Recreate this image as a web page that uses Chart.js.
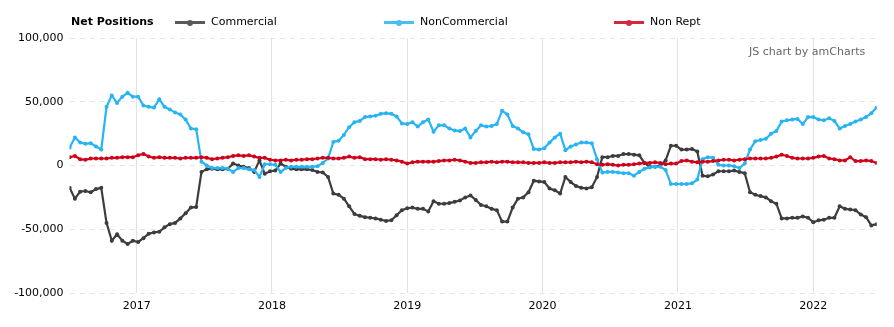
<!DOCTYPE html>
<html>
<head>
<meta charset="utf-8">
<script src="https://cdn.jsdelivr.net/npm/chart.js@4.4.1/dist/chart.umd.min.js"></script>
<style>
  body { margin: 0; background: #fff; font-family: "DejaVu Sans", Verdana, sans-serif; }
  #wrap { position: relative; width: 894px; height: 327px; }
  #chart { position: absolute; left: 0; top: 0; }
  .lg { position: absolute; top: 15px; font-size: 11px; line-height: 14px; color: #000; white-space: nowrap; }
  .mk { position: absolute; top: 21px; width: 30px; height: 3px; opacity: 0.85; }
  .mk i { position: absolute; left: 12px; top: -1.5px; width: 6px; height: 6px; border-radius: 50%; }
  .credit { position: absolute; left: 749px; top: 45px; font-size: 11px; line-height: 14px; color: #666; white-space: nowrap; }
</style>
</head>
<body>
<div id="wrap">
  <canvas id="chart" width="894" height="327"></canvas>
  <div class="lg" style="left:71px;font-weight:bold;">Net Positions</div>
  <div class="mk" style="left:175px;background:#3d3d3d;"><i style="background:#3d3d3d;"></i></div>
  <div class="lg" style="left:211px;">Commercial</div>
  <div class="mk" style="left:384px;background:#27b4f2;"><i style="background:#27b4f2;"></i></div>
  <div class="lg" style="left:420px;">NonCommercial</div>
  <div class="mk" style="left:614px;background:#d0021b;"><i style="background:#d0021b;"></i></div>
  <div class="lg" style="left:650px;">Non Rept</div>
  <div class="credit">JS chart by amCharts</div>
</div>
<script>
// semaine de début / fin des relevés (positions nettes, en milliers)
const firstDate = '2016-07-04';
const lastDate = '2022-06-21';

const commercial = [
  -17.5, -26, -20.5, -20, -21, -18.5, -17.5, -45, -59, -54,
  -59, -61.5, -59, -60, -57, -53.5, -52.5, -52, -48.5, -46,
  -45, -41.5, -37.5, -33, -32.5, -5, -3, -2.5, -3, -3,
  -2.5, 1.5, 0, -1, -2, -5, 4, -6.5, -4.5, -4,
  1.5, -1, -2.5, -3, -3, -3, -3.5, -5, -5.5, -9,
  -22, -23, -26, -32, -38, -39.5, -40.5, -41, -41.5, -42.5,
  -43.5, -43, -39, -35, -33.5, -33, -34, -34, -36, -28,
  -30, -30, -29.5, -28.5, -27.5, -25, -23.5, -27, -31, -32,
  -34, -35, -44, -44, -33, -26, -25, -21, -12, -12.5,
  -13, -18, -19.5, -22, -9, -13, -16, -17.5, -18, -17,
  -9, 6.5, 6.5, 7.5, 7.5, 9, 9, 8.5, 8, 2,
  -1, -1, 0, 4, 15.5, 15.5, 12.5, 12.5, 13, 11,
  -8, -8.5, -7, -4.5, -4.5, -4.5, -4, -5, -6, -21,
  -23, -24, -25, -28, -30, -41.5, -41.5, -41, -41, -40,
  -41, -44.5, -43, -42.5, -41, -41, -32, -34, -34.5, -35,
  -38.5, -40.5, -47, -46
];
const nonCommercial = [
  14, 22, 18, 17, 17.5, 15, 12.5, 46, 55, 49,
  54, 57, 54, 54, 47, 46, 45.5, 52, 46, 44,
  41.5, 40, 36, 29, 28.5, 3, 0, -2, -2, -2,
  -2.5, -5, -2, -2, -3, -3.5, -9, 1, 1, 0.5,
  -5, -2, -1, -1, -1, -1, -1, -0.5, 2, 5.5,
  18.5, 19.5, 24, 30, 34, 35, 38, 38.5, 39, 40.5,
  41, 40.5, 38.5, 33, 32.5, 34, 30.5, 34, 36, 26.5,
  31.5, 31.5, 29, 27.5, 27, 29, 22, 27, 31.5, 30.5,
  31, 32.5, 43, 40, 31, 29, 26, 24.5, 13, 12.5,
  13.5, 18, 22, 25, 12, 15, 16.5, 18, 18, 17.5,
  5, -5.5, -5, -5, -5.5, -6, -6, -8, -5, -2.5,
  -1.5, -1, -1, -3.5, -14.5, -14.5, -14.5, -14.5, -14, -11,
  5, 6.5, 6, 0.5, 0, 0, -0.5, -2, 1.5, 12.5,
  19, 20, 21, 25, 27, 34.5, 35.5, 36, 36.5, 32.5,
  38, 38, 36, 35.5, 37, 35, 29, 31, 32.5, 34.5,
  36, 38, 41, 45.5
];
const nonRept = [
  6.5, 7.5, 5, 4.5, 5.5, 5.5, 5.5, 5.5, 6, 6,
  6.5, 6.5, 6.5, 8, 9, 7, 6, 6.5, 6, 6,
  6, 5.5, 6, 6, 6, 6.5, 6, 5, 5.5, 6,
  6.5, 7.5, 8, 7.5, 8, 7, 6, 6, 4.5, 4,
  4, 4.5, 4, 4.5, 4.5, 5, 5, 5.5, 6, 6,
  5.5, 5.5, 6, 7, 6, 6.5, 5, 5, 5, 4.5,
  5, 4.5, 4, 3, 1.5, 2.5, 3, 3, 3, 3,
  3.5, 4, 4, 4.5, 4, 3, 2, 2, 2.5, 2.5,
  3, 2.5, 3, 3, 2.5, 2.5, 2.5, 2, 2, 2,
  2.5, 2, 2, 2.5, 2.5, 2.5, 3, 2.5, 3, 2.5,
  1, 0.5, 1, 0.5, 0, 0.5, 0.5, 1, 1.5, 2,
  2, 2.5, 2, 1, 1.5, 1.5, 3.5, 4, 3, 2.5,
  3, 3, 3.5, 4, 4.5, 4.5, 4, 4.5, 5, 5.5,
  5.5, 5.5, 5.5, 6, 7, 8.5, 7.5, 6, 5.5, 5.5,
  5.5, 6, 7, 7.5, 5.5, 5, 4, 4, 6.5, 3.5,
  3.5, 4, 3.5, 2
];

const yearLabels = ['2017', '2018', '2019', '2020', '2021', '2022'];
const yTicks = [-100000, -50000, 0, 50000, 100000];

// dates des relevés réparties entre la première et la dernière semaine
const t0 = Date.parse(firstDate), t1 = Date.parse(lastDate);
const weekDates = commercial.map((_, i) => t0 + (t1 - t0) * i / (commercial.length - 1));
const toPoints = arr => arr.map((v, i) => ({ x: weekDates[i], y: v * 1000 }));

const axisFont = { family: '"DejaVu Sans", Verdana, sans-serif', size: 11 };

function serie(label, data, color, order) {
  return {
    label: label,
    data: toPoints(data),
    borderColor: color,
    backgroundColor: color,
    pointBackgroundColor: color,
    pointBorderWidth: 0,
    pointRadius: 2,
    borderWidth: 2.2,
    tension: 0,
    order: order
  };
}

new Chart(document.getElementById('chart').getContext('2d'), {
  type: 'line',
  data: {
    datasets: [
      serie('Commercial', commercial, '#3d3d3d', 2),
      serie('NonCommercial', nonCommercial, '#27b4f2', 1),
      serie('Non Rept', nonRept, '#d0021b', 0)
    ]
  },
  options: {
    responsive: false,
    animation: false,
    devicePixelRatio: 1,
    layout: { padding: { left: 12.6, right: 17.4, top: 38, bottom: 14 } },
    plugins: { legend: { display: false }, tooltip: { enabled: false } },
    scales: {
      x: {
        type: 'linear',
        min: weekDates[0],
        max: weekDates[weekDates.length - 1],
        afterBuildTicks: s => { s.ticks = yearLabels.map(y => ({ value: Date.UTC(+y, 0, 1) })); },
        afterFit: s => { s.height = 20; },
        ticks: {
          autoSkip: false, maxRotation: 0, padding: 7, color: '#000', font: axisFont,
          callback: v => String(new Date(v).getUTCFullYear())
        },
        grid: { color: '#e2e2e2', drawTicks: false },
        border: { display: false }
      },
      y: {
        min: -100000,
        max: 100000,
        afterBuildTicks: s => { s.ticks = yTicks.map(v => ({ value: v })); },
        afterFit: s => { s.width = 57; },
        ticks: {
          padding: 6, color: '#000', font: axisFont,
          callback: v => v.toLocaleString('en-US')
        },
        grid: { color: '#e6e6e6', drawTicks: false },
        border: { display: false, dash: [5, 5] }
      }
    }
  }
});
</script>
</body>
</html>
